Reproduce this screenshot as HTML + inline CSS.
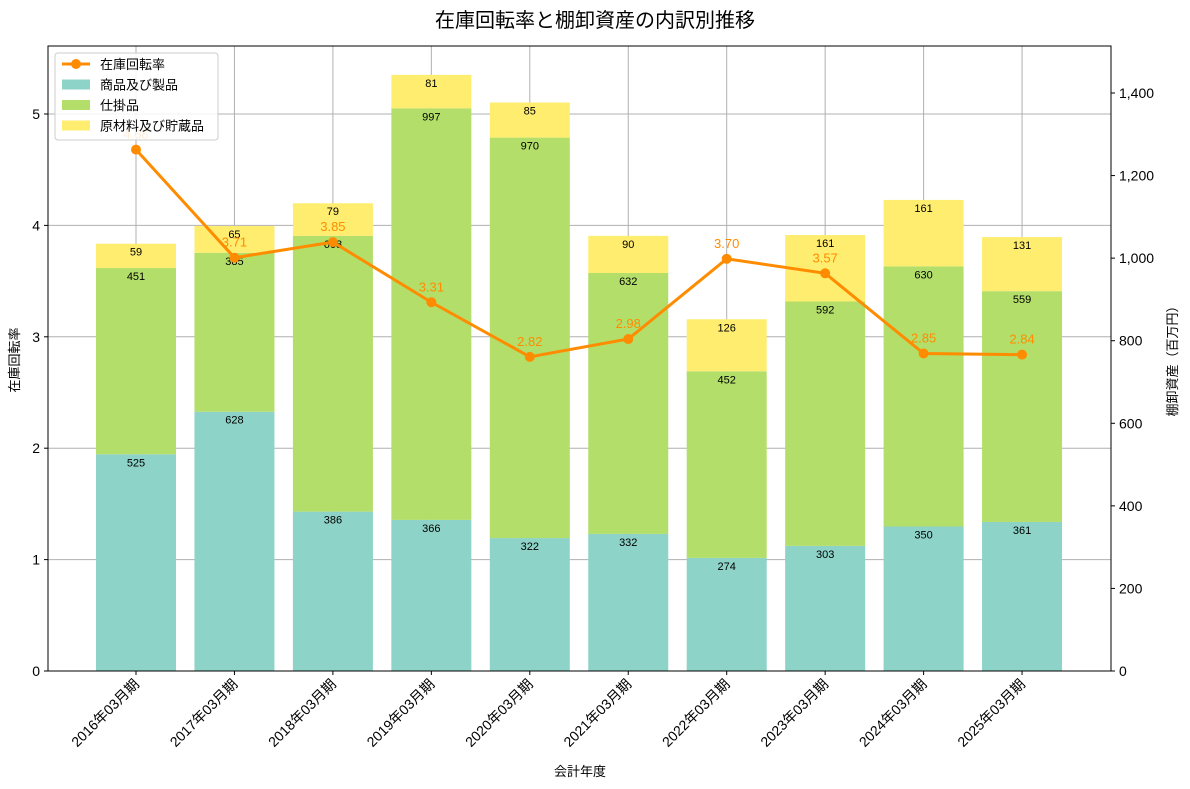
<!DOCTYPE html>
<html><head><meta charset="utf-8"><style>body{margin:0;background:#fff}svg{display:block;font-family:"Liberation Sans","Noto Sans CJK JP",sans-serif}</style></head>
<body>
<svg id="c" width="1190" height="789"></svg>
<script>
const categories=["2016年03月期","2017年03月期","2018年03月期","2019年03月期","2020年03月期","2021年03月期","2022年03月期","2023年03月期","2024年03月期","2025年03月期"];
const goods=[525,628,386,366,322,332,274,303,350,361];
const wip=[451,385,668,997,970,632,452,592,630,559];
const materials=[59,65,79,81,85,90,126,161,161,131];
const turnover=[4.68,3.71,3.85,3.31,2.82,2.98,3.70,3.57,2.85,2.84];
const leftTicks=[0,1,2,3,4,5];
const rightTicks=[0,200,400,600,800,1000,1200,1400];
const X0=48,X1=1111,Y0=671,Y1=46;
const svg=document.getElementById('c');const NS='http://www.w3.org/2000/svg';
function el(t,a,txt,p){const e=document.createElementNS(NS,t);for(const k in a)e.setAttribute(k,a[k]);if(txt!=null)e.textContent=txt;(p||svg).appendChild(e);return e;}
const xc=i=>136+i*98.45;
const yL=v=>Y0-v*111.4;
const yR=v=>Y0-v*0.41285;
const fmt=v=>v.toLocaleString('en-US');
let e;
e=el('text',{x:595,y:27,'text-anchor':'middle','font-size':20},'在庫回転率と棚卸資産の内訳別推移');

const grid=el('g',{});
leftTicks.forEach(t=>{el('line',{x1:X0,x2:X1,y1:yL(t),y2:yL(t),stroke:'#b0b0b0','stroke-width':1},null,grid);});
categories.forEach((c,i)=>{el('line',{x1:xc(i),x2:xc(i),y1:Y1,y2:Y0,stroke:'#b0b0b0','stroke-width':1},null,grid);});
const bars=el('g',{});
const segs=[[goods,'#8dd3c7','goods'],[wip,'#b3de69','wip'],[materials,'#ffed6f','materials']];
categories.forEach((c,i)=>{let base=0;segs.forEach(([arr,col,nm])=>{const v=arr[i];const r=el('rect',{x:xc(i)-40,width:80,y:yR(base+v),height:yR(base)-yR(base+v),fill:col},null,bars);
base+=v;});});
categories.forEach((c,i)=>{let base=0;segs.forEach(([arr,col,nm])=>{const v=arr[i];base+=v;const t=el('text',{x:xc(i),y:yR(base)+12,'text-anchor':'middle','font-size':11},fmt(v),bars);
});});
const pts=turnover.map((v,i)=>xc(i)+','+yL(v)).join(' ');
e=el('polyline',{points:pts,fill:'none',stroke:'#ff8c00','stroke-width':3});
turnover.forEach((v,i)=>{e=el('circle',{cx:xc(i),cy:yL(v),r:5,fill:'#ff8c00'});
e=el('text',{x:xc(i),y:yL(v)-11,'text-anchor':'middle','font-size':13,fill:'#ff8c00'},v.toFixed(2));});
e=el('rect',{x:X0,y:Y1,width:X1-X0,height:Y0-Y1,fill:'none',stroke:'#000','stroke-width':1});
leftTicks.forEach(t=>{el('line',{x1:X0-4,x2:X0,y1:yL(t),y2:yL(t),stroke:'#000'});e=el('text',{x:X0-8,y:yL(t)+5,'text-anchor':'end','font-size':14},t);});
rightTicks.forEach(t=>{el('line',{x1:X1,x2:X1+4,y1:yR(t),y2:yR(t),stroke:'#000'});e=el('text',{x:X1+8,y:yR(t)+5,'font-size':14},fmt(t));});
categories.forEach((c,i)=>{el('line',{x1:xc(i),x2:xc(i),y1:Y0,y2:Y0+4,stroke:'#000'});e=el('text',{x:xc(i)+4,y:Y0+14,'text-anchor':'end','font-size':14,transform:`rotate(-45 ${xc(i)+4} ${Y0+14})`},c);});
e=el('text',{x:580,y:776,'text-anchor':'middle','font-size':13},'会計年度');
e=el('text',{x:19,y:360,'text-anchor':'middle','font-size':13,transform:'rotate(-90 19 360)'},'在庫回転率');
e=el('text',{x:1177,y:358,'text-anchor':'middle','font-size':13,transform:'rotate(-90 1177 358)'},'棚卸資産（百万円）');
const lg=el('g',{});
el('rect',{x:55,y:53,width:163,height:87,fill:'#fff','fill-opacity':0.85,stroke:'#ccc',rx:3},null,lg);
el('line',{x1:62,x2:90,y1:64,y2:64,stroke:'#ff8c00','stroke-width':3},null,lg);el('circle',{cx:76,cy:64,r:5,fill:'#ff8c00'},null,lg);
const items=[['在庫回転率',null],['商品及び製品','#8dd3c7'],['仕掛品','#b3de69'],['原材料及び貯蔵品','#ffed6f']];
items.forEach(([n,col],k)=>{const y=64+k*20.5;if(col)el('rect',{x:62,y:y-5,width:28,height:10,fill:col},null,lg);
e=el('text',{x:100,y:y+5,'font-size':13},n,lg);});
</script>
</body></html>
